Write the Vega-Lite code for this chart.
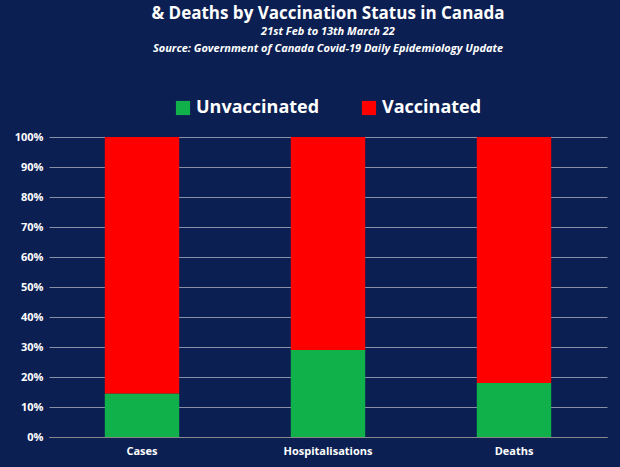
{
  "$schema": "https://vega.github.io/schema/vega-lite/v6.json",
  "width": 558,
  "height": 300,
  "autosize": {"type": "none"},
  "padding": {"left": 49, "top": 137, "right": 13, "bottom": 30},
  "background": "#0c1f52",
  "title": {
    "text": ["Percentage of Covid-19 Cases, Hospitalisations", "& Deaths by Vaccination Status in Canada"],
    "subtitle": ["21st Feb to 13th March 22", "Source: Government of Canada  Covid-19 Daily Epidemiology Update"],
    "color": "white",
    "subtitleColor": "white",
    "font": "Open Sans",
    "subtitleFont": "Open Sans",
    "fontSize": 17,
    "lineHeight": 24,
    "subtitleFontSize": 11,
    "subtitleFontWeight": "bold",
    "subtitleFontStyle": "italic",
    "subtitleLineHeight": 17,
    "anchor": "middle",
    "frame": "group",
    "offset": 44
  },
  "data": {
    "values": [
      {"category": "Cases", "status": "Unvaccinated", "pct": 14.5},
      {"category": "Cases", "status": "Vaccinated", "pct": 85.5},
      {"category": "Hospitalisations", "status": "Unvaccinated", "pct": 29},
      {"category": "Hospitalisations", "status": "Vaccinated", "pct": 71},
      {"category": "Deaths", "status": "Unvaccinated", "pct": 18},
      {"category": "Deaths", "status": "Vaccinated", "pct": 82}
    ]
  },
  "transform": [{"calculate": "datum.status == 'Unvaccinated' ? 0 : 1", "as": "ord"}],
  "mark": {"type": "bar"},
  "encoding": {
    "x": {
      "field": "category", "type": "nominal", "sort": ["Cases", "Hospitalisations", "Deaths"],
      "scale": {"paddingInner": 0.6, "paddingOuter": 0.3},
      "axis": {"title": null, "labelAngle": 0, "labelColor": "white", "labelFontWeight": "bold", "labelFontSize": 11, "labelFont": "Open Sans", "ticks": false, "domainColor": "#888", "labelPadding": 8}
    },
    "y": {
      "field": "pct", "type": "quantitative", "stack": "zero",
      "scale": {"domain": [0, 100]},
      "axis": {"title": null, "values": [0,10,20,30,40,50,60,70,80,90,100], "labelExpr": "datum.value + '%'", "labelColor": "white", "labelFontWeight": "bold", "labelFontSize": 11, "labelFont": "Open Sans", "ticks": false, "domain": false, "gridColor": "#8a8fa8", "gridWidth": 1, "labelPadding": 6}
    },
    "order": {"field": "ord"},
    "color": {
      "field": "status", "type": "nominal",
      "scale": {"domain": ["Unvaccinated", "Vaccinated"], "range": ["#10b04a", "#ff0000"]},
      "legend": {"title": null, "orient": "none", "legendX": 125, "legendY": -38, "direction": "horizontal", "symbolType": "square", "symbolSize": 200, "symbolStrokeWidth": 0, "symbolOpacity": 1, "labelColor": "white", "labelFontSize": 18, "labelFontWeight": "bold", "labelFont": "Open Sans", "columnPadding": 40}
    }
  },
  "config": {"view": {"stroke": null}}
}
